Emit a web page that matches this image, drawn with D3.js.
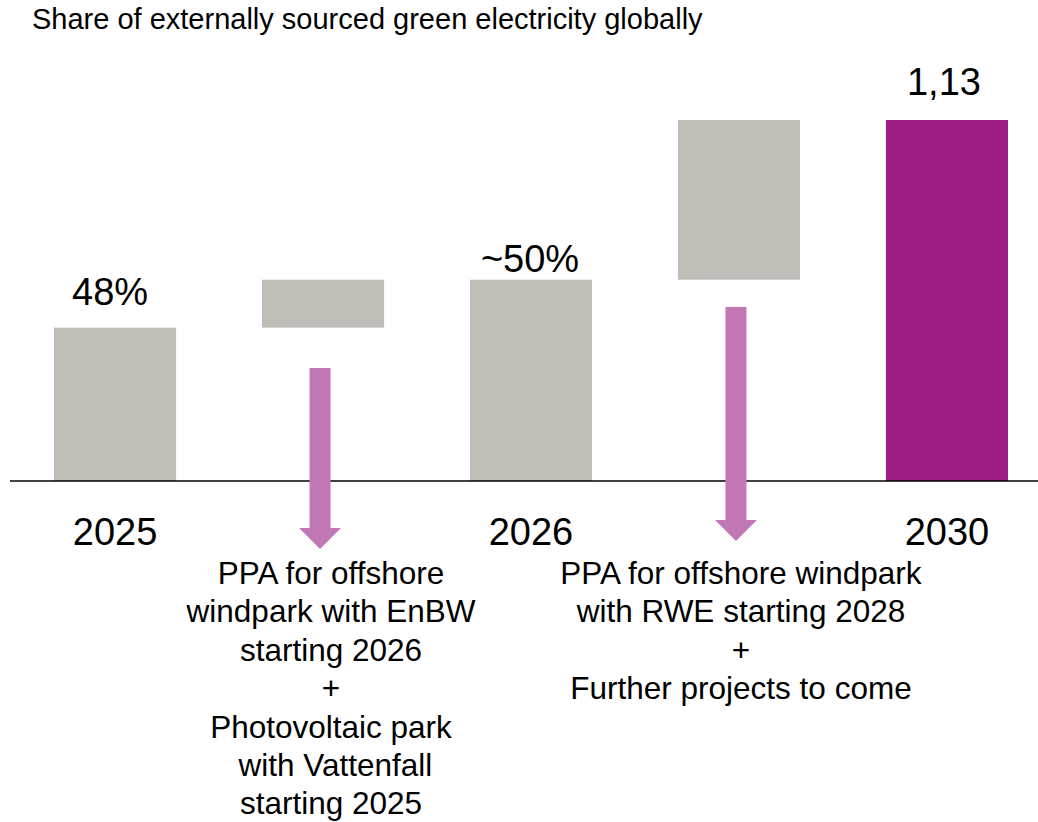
<!DOCTYPE html>
<html><head><meta charset="utf-8">
<script src="https://cdn.jsdelivr.net/npm/d3@7"></script>
<style>body{margin:0;background:#fff}svg{display:block;font-family:"Liberation Sans",Arial,sans-serif}</style>
</head><body><svg id="c" width="1038" height="822"></svg>
<script>
const title = "Share of externally sourced green electricity globally";
const categories = ["2025", "step1", "2026", "step2", "2030"];
const axisLabels = ["2025", "", "2026", "", "2030"];
const startValues = [0, 48, 0, 63, 0];
const endValues = [48, 63, 63, 113, 113];
const valueLabels = ["48%", "", "~50%", "", "1,13"];
const barKinds = ["total", "delta", "total", "delta", "final"];
const notes = [
  null,
  ["PPA for offshore", "windpark with EnBW", "starting 2026", "+", "Photovoltaic park", " with Vattenfall", "starting 2025"],
  null,
  ["PPA for offshore windpark", "with RWE starting 2028", "+", "Further projects to come"],
  null
];

const svg = d3.select("#c");
const W = 1038, H = 822;
const x = d3.scaleBand().domain(categories).range([54, 1008]).paddingInner(0.413).paddingOuter(0);
const y = d3.scaleLinear().domain([0, 113]).range([481, 120]);
const color = {total: "#C0BDB8", delta: "#C0BDB8", final: "#9C1D84"};

svg.append("text").attr("x", 32).attr("y", 29).attr("font-size", 29).attr("fill", "#000").text(title);

svg.selectAll("rect.bar").data(categories).join("rect").attr("class", "bar")
  .attr("x", d => x(d)).attr("width", x.bandwidth())
  .attr("y", (d, i) => y(endValues[i]))
  .attr("height", (d, i) => y(startValues[i]) - y(endValues[i]))
  .attr("fill", (d, i) => color[barKinds[i]]);

svg.append("line").attr("x1", 10).attr("x2", W).attr("y1", y(0)).attr("y2", y(0))
  .attr("stroke", "#000").attr("stroke-width", 1.5);

const valueOffsets = [-5, 0, -1, 0, -3];
const valueGap = [23, 0, 8, 0, 25];
svg.selectAll("text.val").data(categories).join("text").attr("class", "val")
  .attr("x", (d, i) => x(d) + x.bandwidth() / 2 + valueOffsets[i])
  .attr("y", (d, i) => y(endValues[i]) - valueGap[i])
  .attr("text-anchor", "middle").attr("font-size", 38).attr("fill", "#000")
  .text((d, i) => valueLabels[i]);

svg.selectAll("text.cat").data(categories).join("text").attr("class", "cat")
  .attr("x", d => x(d) + x.bandwidth() / 2)
  .attr("y", 545)
  .attr("text-anchor", "middle").attr("font-size", 38).attr("fill", "#000")
  .text((d, i) => axisLabels[i]);

// arrows
const arrowTops = {step1: 368, step2: 307};
const arrowTips = {step1: 549, step2: 541};
categories.forEach((c, i) => {
  if (!notes[i]) return;
  const cx = x(c) + x.bandwidth() / 2 - 3;
  const top = arrowTops[c], tip = arrowTips[c], hh = 21, sw = 10.5, hw = 21;
  const p = d3.path();
  p.moveTo(cx - sw, top); p.lineTo(cx + sw, top); p.lineTo(cx + sw, tip - hh);
  p.lineTo(cx + hw, tip - hh); p.lineTo(cx, tip); p.lineTo(cx - hw, tip - hh);
  p.lineTo(cx - sw, tip - hh); p.closePath();
  svg.append("path").attr("d", p.toString()).attr("fill", "#C278B5");
  const tx = x(c) + x.bandwidth() / 2 + (i === 1 ? 8 : 2);
  const t = svg.append("text").attr("text-anchor", "middle").attr("font-size", 31.5).attr("fill", "#000");
  notes[i].forEach((line, k) => {
    t.append("tspan").attr("x", tx).attr("y", 584 + k * 38.4).attr("xml:space", "preserve").text(line);
  });
});
</script></body></html>
